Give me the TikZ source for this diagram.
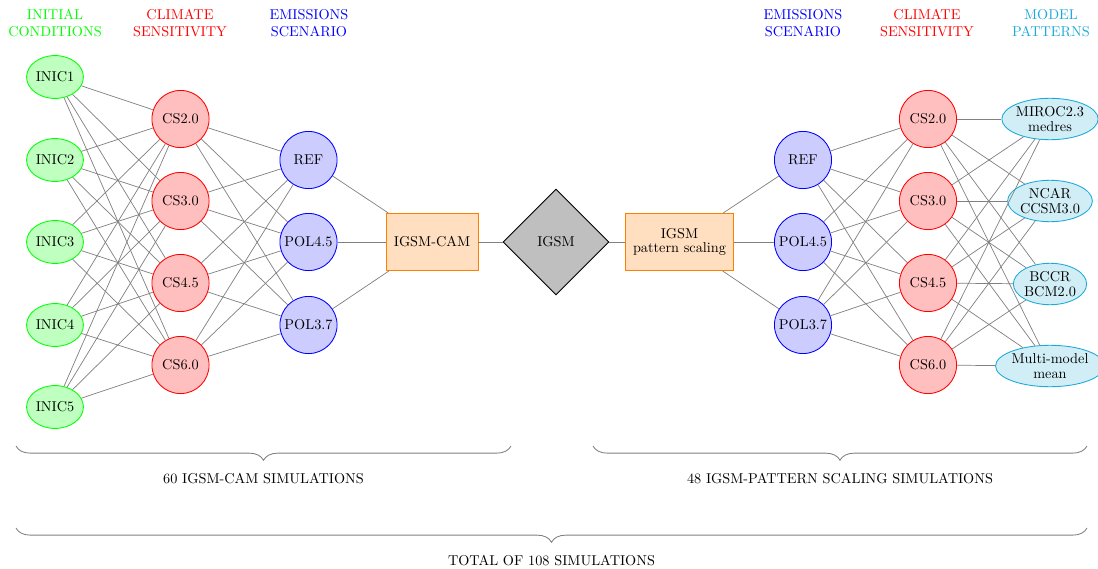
\documentclass[tikz,border=0pt]{standalone}
\usetikzlibrary{shapes.geometric,decorations.pathreplacing}
\definecolor{mycyan}{RGB}{27,170,216}
\begin{document}
\begin{tikzpicture}[x=0.7pt,y=-0.7pt,
  inic/.style={ellipse,draw=green,fill=green!25,inner sep=0.6pt,minimum height=30pt,line width=0.6pt},
  csnode/.style={circle,draw=red,fill=red!25,minimum size=40pt,inner sep=0pt,line width=0.6pt},
  emnode/.style={circle,draw=blue,fill=blue!20,minimum size=40pt,inner sep=0pt,line width=0.6pt},
  modbox/.style={rectangle,draw=orange,fill=orange!25,minimum height=40pt,inner xsep=5.5pt,align=center,line width=0.6pt},
  patnode/.style={ellipse,draw=mycyan,fill=mycyan!20,inner sep=0pt,minimum height=29pt,align=center,line width=0.6pt},
  igsmnode/.style={diamond,draw=black,fill=gray!50,minimum size=74pt,inner sep=0pt,line width=0.6pt},
  hdr/.style={align=center,inner sep=0pt},
  conn/.style={draw=gray,line width=0.5pt},
  brc/.style={draw=gray,line width=0.6pt,decorate,decoration={brace,amplitude=10pt}},
  lbl/.style={inner sep=0pt}]
\useasboundingbox (0,0) rectangle (1098,569);

% headers
\node[hdr,text=green] (h1) at (55,23) {INITIAL\\CONDITIONS};
\node[hdr,text=red] (h2) at (180,23) {CLIMATE\\SENSITIVITY};
\node[hdr,text=blue] (h3) at (309,23) {EMISSIONS\\SCENARIO};
\node[hdr,text=blue] (h4) at (803,23) {EMISSIONS\\SCENARIO};
\node[hdr,text=red] (h5) at (927,23) {CLIMATE\\SENSITIVITY};
\node[hdr,text=mycyan] (h6) at (1051,23) {MODEL\\PATTERNS};

% left side
\node[inic] (i1) at (55,77) {INIC1};
\node[inic] (i2) at (55,160) {INIC2};
\node[inic] (i3) at (55,242) {INIC3};
\node[inic] (i4) at (55,325) {INIC4};
\node[inic] (i5) at (55,407) {INIC5};

\node[csnode] (c1) at (180.5,119) {CS2.0};
\node[csnode] (c2) at (180.5,201) {CS3.0};
\node[csnode] (c3) at (180.5,283) {CS4.5};
\node[csnode] (c4) at (180.5,365) {CS6.0};

\node[emnode] (e1) at (308.5,160) {REF};
\node[emnode] (e2) at (308.5,242) {POL4.5};
\node[emnode] (e3) at (308.5,325) {POL3.7};

\node[modbox] (cam) at (432,242) {IGSM-CAM};
\node[igsmnode] (igsm) at (556,242) {IGSM};
\node[modbox] (ps) at (679.5,242) {IGSM\\[-2pt]pattern scaling};

% right side
\node[emnode] (r1) at (803,160) {REF};
\node[emnode] (r2) at (803,242) {POL4.5};
\node[emnode] (r3) at (803,325) {POL3.7};

\node[csnode] (s1) at (928,119) {CS2.0};
\node[csnode] (s2) at (928,201) {CS3.0};
\node[csnode] (s3) at (928,283) {CS4.5};
\node[csnode] (s4) at (928,365) {CS6.0};

\node[patnode] (p1) at (1050,119) {MIROC2.3\\[-2pt]medres};
\node[patnode] (p2) at (1050,201) {NCAR\\[-2pt]CCSM3.0};
\node[patnode] (p3) at (1050,284) {BCCR\\[-2pt]BCM2.0};
\node[patnode] (p4) at (1050,366) {Multi-model\\[-2pt]mean};

% connectors
\foreach \a in {1,...,5}{\foreach \b in {1,...,4}{\draw[conn] (i\a) -- (c\b);}}
\foreach \a in {1,...,4}{\foreach \b in {1,...,3}{\draw[conn] (c\a) -- (e\b);}}
\foreach \b in {1,...,3}{\draw[conn] (e\b) -- (cam);}
\draw[conn] (cam) -- (igsm);
\draw[conn] (igsm) -- (ps);
\foreach \b in {1,...,3}{\draw[conn] (ps) -- (r\b);}
\foreach \a in {1,...,3}{\foreach \b in {1,...,4}{\draw[conn] (r\a) -- (s\b);}}
\foreach \a in {1,...,4}{\foreach \b in {1,...,4}{\draw[conn] (s\a) -- (p\b);}}

% braces
\coordinate (bl1) at (16,446);
\coordinate (bl2) at (511,446);
\coordinate (br1) at (593,446);
\coordinate (br2) at (1087,446);
\coordinate (bt1) at (16,528);
\coordinate (bt2) at (1087,528);
\draw[brc] (bl2) -- (bl1);
\draw[brc] (br2) -- (br1);
\draw[brc] (bt2) -- (bt1);
\node[lbl] (l1) at (263.5,479) {60 IGSM-CAM SIMULATIONS};
\node[lbl] (l2) at (840,479) {48 IGSM-PATTERN SCALING SIMULATIONS};
\node[lbl] (l3) at (551.5,561) {TOTAL OF 108 SIMULATIONS};
\end{tikzpicture}
\end{document}
